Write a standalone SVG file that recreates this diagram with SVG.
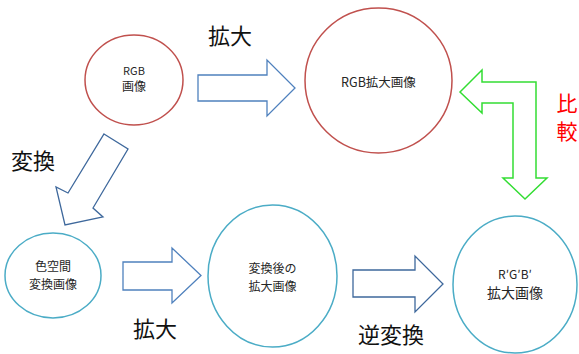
<svg xmlns="http://www.w3.org/2000/svg" width="579" height="354" viewBox="0 0 579 354">
<style>
.red{fill:#fff;stroke:#C0504D;stroke-width:1.5}
.cyan{fill:#fff;stroke:#4BACC6;stroke-width:1.5}
.arr{fill:#fff;stroke:#4F81BD;stroke-width:1.3;stroke-linejoin:miter}
.arr2{fill:#fff;stroke:#3E689C;stroke-width:1.3}
.garr{fill:#fff;stroke:#33DD33;stroke-width:1.5}
.t{font-family:"Noto Sans CJK JP","Noto Sans",sans-serif;fill:#262626;text-anchor:middle}
.lab{font-family:"Noto Sans CJK JP",sans-serif;font-size:22px;fill:#111;text-anchor:middle}
.cmp{font-family:"Noto Sans CJK JP",sans-serif;font-size:21px;fill:#FF0000;text-anchor:middle}
</style>
<rect width="579" height="354" fill="#fff"/>
<g id="connectors">
<polygon class="arr" points="198,75 267,75 267,60 295,88 267,116 267,101 198,101"/>
<polygon class="arr2" points="104,134 128,149 93,208 103,217 65,225 56,187 68,193"/>
<polygon class="arr" points="123,262 172,262 172,248 201,275.5 172,303 172,290 123,290"/>
<polygon class="arr2" points="353,270 415,270 415,256 443,284 415,312 415,297 353,297"/>
<polygon class="garr" points="460,92 482,70 482,82 536,82 536,178 547,178 525,199 503,178 513,178 513,103 482,103 482,113"/>
<text class="lab" x="230" y="44">拡大</text>
<text class="lab" x="33" y="169">変換</text>
<text class="lab" x="155" y="337">拡大</text>
<text class="lab" x="391" y="343">逆変換</text>
<text class="cmp" x="567" y="111">比</text>
<text class="cmp" x="567" y="139">較</text>
</g>
<g id="n1">
<ellipse class="red" cx="134" cy="80" rx="49" ry="45"/>
<text class="t" x="134" y="75" font-size="11">RGB</text>
<text class="t" x="134" y="91" font-size="12">画像</text>
</g>
<g id="n2">
<ellipse class="red" cx="378.5" cy="80.5" rx="73.5" ry="72.5"/>
<text class="t" x="378.5" y="87" font-size="12.5">RGB拡大画像</text>
</g>
<g id="n3">
<ellipse class="cyan" cx="53" cy="275.5" rx="48" ry="42.5"/>
<text class="t" x="53" y="271" font-size="12">色空間</text>
<text class="t" x="53" y="289" font-size="12">変換画像</text>
</g>
<g id="n4">
<ellipse class="cyan" cx="272.5" cy="276" rx="64.5" ry="71"/>
<text class="t" x="272.5" y="273" font-size="12">変換後の</text>
<text class="t" x="272.5" y="291" font-size="12">拡大画像</text>
</g>
<g id="n5">
<ellipse class="cyan" cx="515" cy="284.5" rx="62" ry="68.5"/>
<text class="t" x="515" y="279" font-size="12">R′G′B′</text>
<text class="t" x="515" y="298" font-size="14">拡大画像</text>
</g>
</svg>
